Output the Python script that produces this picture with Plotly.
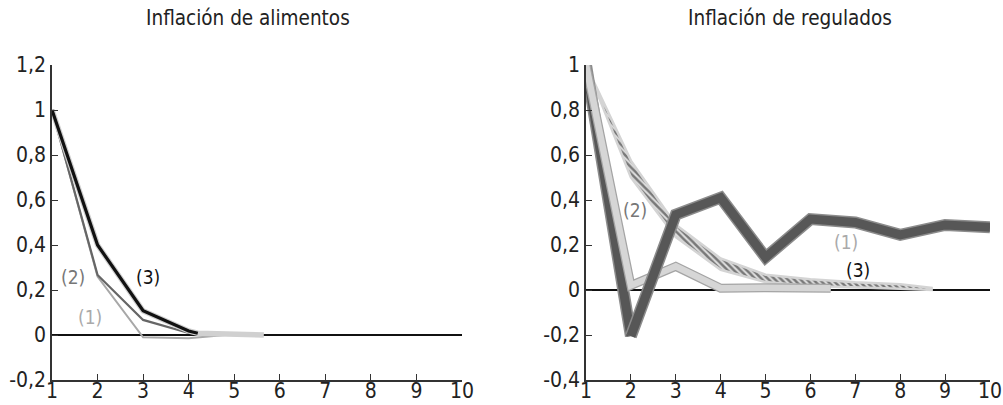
import plotly.graph_objects as go

# Horizon (periods)
horizon = [1, 2, 3, 4, 5, 6, 7, 8, 9, 10]

# --- Inflación de alimentos ---
food_x1 = [1, 2, 3, 4, 4.8]
food_s1 = [1.0, 0.26, -0.01, -0.015, 0.0]
food_x2 = [1, 2, 3, 4, 5]
food_s2 = [1.0, 0.267, 0.067, 0.009, 0.0]
food_x3 = [1, 2, 3, 4, 4.2]
food_s3 = [1.0, 0.40, 0.108, 0.018, 0.008]
food_x3_band = [1, 2, 3, 4, 4.2, 5, 5.65]
food_s3_band = [1.0, 0.40, 0.108, 0.018, 0.008, 0.003, 0.0]

# --- Inflación de regulados ---
reg_x1 = [1, 2, 3, 4, 5, 6, 7, 8, 9, 10]
reg_s1 = [1.0, -0.205, 0.335, 0.41, 0.145, 0.315, 0.30, 0.245, 0.289, 0.279]
reg_x2 = [1, 2, 3, 4, 5, 6, 6.45]
reg_s2 = [1.0, 0.02, 0.105, 0.008, 0.01, 0.01, 0.008]
reg_x3 = [1, 2, 3, 4, 5, 6, 7, 8, 8.7]
reg_s3_hi = [1.0, 0.575, 0.29, 0.14, 0.068, 0.048, 0.034, 0.025, 0.01]
reg_s3_lo = [1.0, 0.50, 0.235, 0.09, 0.035, 0.018, 0.01, 0.005, 0.0]

food_ticks = [-0.2, 0, 0.2, 0.4, 0.6, 0.8, 1.0, 1.2]
food_ticktext = ["-0,2", "0", "0,2", "0,4", "0,6", "0,8", "1", "1,2"]
reg_ticks = [-0.4, -0.2, 0, 0.2, 0.4, 0.6, 0.8, 1.0]
reg_ticktext = ["-0,4", "-0,2", "0", "0,2", "0,4", "0,6", "0,8", "1"]

FONT = "Liberation Sans Narrow, DejaVu Sans Condensed, Roboto Condensed, Arial Narrow, sans-serif"


def line(x, y, color, width, xa="x", ya="y"):
    return go.Scatter(x=x, y=y, mode="lines", line=dict(color=color, width=width),
                      xaxis=xa, yaxis=ya, hoverinfo="skip")


fig = go.Figure()

# Left panel
fig.add_trace(line(food_x1, food_s1, "#a8a8a8", 2))
fig.add_trace(line(food_x2, food_s2, "#666666", 2.2))
fig.add_trace(line(food_x3_band, food_s3_band, "#d0d0d0", 5.5))
fig.add_trace(line(food_x3, food_s3, "#111111", 3.2))

# Right panel: hatched band (3)
band_x = reg_x3 + reg_x3[::-1]
band_y = reg_s3_hi + reg_s3_lo[::-1]
fig.add_trace(go.Scatter(x=band_x, y=band_y, mode="lines", fill="toself",
                         line=dict(color="#d4d4d4", width=2.5),
                         fillcolor="#e0e0e0",
                         fillpattern=dict(shape="\\", fgcolor="#111111", bgcolor="#dedede",
                                          size=4.5, solidity=0.55),
                         xaxis="x2", yaxis="y2", hoverinfo="skip"))

# Right panel: dark gray thick line (1), first segment underneath (2)
fig.add_trace(line(reg_x1[:2], reg_s1[:2], "#8c8c8c", 12, "x2", "y2"))
fig.add_trace(line(reg_x1[:2], reg_s1[:2], "#575757", 9, "x2", "y2"))

# Right panel: light gray thick line (2)
fig.add_trace(line(reg_x2, reg_s2, "#a4a4a4", 9, "x2", "y2"))
fig.add_trace(line(reg_x2, reg_s2, "#d6d6d6", 6.5, "x2", "y2"))

# Right panel: dark gray thick line (1), remaining path on top
fig.add_trace(line(reg_x1[1:], reg_s1[1:], "#8c8c8c", 12, "x2", "y2"))
fig.add_trace(line(reg_x1[1:], reg_s1[1:], "#575757", 9, "x2", "y2"))

axis_common = dict(
    showgrid=False, showline=True, linecolor="#333333", linewidth=1.5,
    ticks="inside", ticklen=6, tickwidth=1.2, tickcolor="#333333",
    tickfont=dict(family=FONT, size=21, color="#222222"),
    automargin=False, fixedrange=True, ticklabeloverflow="allow",
)

fig.update_layout(
    width=1003, height=405,
    margin=dict(l=0, r=0, t=0, b=0),
    paper_bgcolor="white", plot_bgcolor="white",
    showlegend=False,
    xaxis=dict(domain=[52 / 1003, 462 / 1003], range=[1, 10], tickvals=horizon,
               zeroline=False, anchor="y", ticklabelstandoff=-9, **axis_common),
    yaxis=dict(domain=[25 / 405, 340 / 405], range=[-0.2, 1.2], tickvals=food_ticks,
               ticktext=food_ticktext, zeroline=True, zerolinecolor="#111111",
               zerolinewidth=2, anchor="x", **axis_common),
    xaxis2=dict(domain=[586 / 1003, 990 / 1003], range=[1, 10], tickvals=horizon,
                zeroline=False, anchor="y2", ticklabelstandoff=-9, **axis_common),
    yaxis2=dict(domain=[25 / 405, 340 / 405], range=[-0.4, 1.0], tickvals=reg_ticks,
                ticktext=reg_ticktext, zeroline=True, zerolinecolor="#111111",
                zerolinewidth=2, anchor="x2", **axis_common),
)

titles = [
    ("Inflación de alimentos", 248 / 1003),
    ("Inflación de regulados", 790 / 1003),
]
for text, x in titles:
    fig.add_annotation(xref="paper", yref="paper", showarrow=False, x=x, y=1 - 18 / 405,
                       text=text, xanchor="center", yanchor="middle",
                       font=dict(family=FONT, size=20.5, color="#222222"))

series_labels = [
    ("x", "y", 1.46, 0.258, "(2)", "#777777"),
    ("x", "y", 1.83, 0.08, "(1)", "#aaaaaa"),
    ("x", "y", 3.1, 0.258, "(3)", "#111111"),
    ("x2", "y2", 2.10, 0.356, "(2)", "#777777"),
    ("x2", "y2", 6.79, 0.213, "(1)", "#aaaaaa"),
    ("x2", "y2", 7.06, 0.089, "(3)", "#111111"),
]
for xr, yr, x, y, t, c in series_labels:
    fig.add_annotation(xref=xr, yref=yr, x=x, y=y, text=t, showarrow=False,
                       xanchor="center", yanchor="middle",
                       font=dict(family=FONT, size=19, color=c))

fig.write_html("out.html")
